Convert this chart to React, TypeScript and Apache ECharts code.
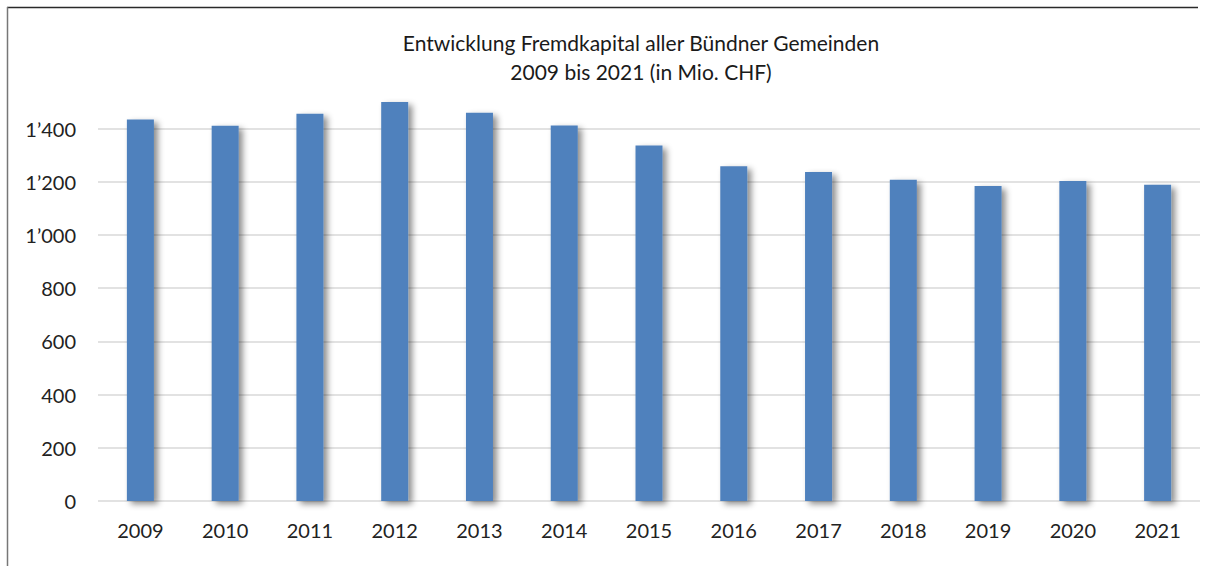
import React, { useEffect, useRef } from "react";
import * as echarts from "echarts";

const categories = ["2009", "2010", "2011", "2012", "2013", "2014", "2015", "2016", "2017", "2018", "2019", "2020", "2021"];
const values = [1434, 1411, 1456, 1500, 1460, 1412, 1336, 1258, 1237, 1208, 1184, 1203, 1189];
const titleLines = ["Entwicklung Fremdkapital aller Bündner Gemeinden", "2009 bis 2021 (in Mio. CHF)"];

const fmt = (v: number) => {
  const s = String(Math.round(v));
  return s.replace(/\B(?=(\d{3})+(?!\d))/g, "\u2019");
};

export default function App() {
  const ref = useRef<HTMLDivElement>(null);
  useEffect(() => {
    if (!ref.current) return;
    const chart = echarts.init(ref.current, null, { renderer: "svg" });
    const font = "Lato, 'Open Sans', sans-serif";
    chart.setOption({
      animation: false,
      backgroundColor: "#ffffff",
      title: {
        text: titleLines.join("\n"),
        left: 636,
        top: 23,
        textAlign: "center",
        textStyle: { fontFamily: font, fontSize: 21, fontWeight: "normal", color: "#1a1a1a", lineHeight: 29 },
      },
      graphic: [
        { type: "line", shape: { x1: 7, y1: 7.5, x2: 1198, y2: 7.5 }, style: { stroke: "#2a2a2a", lineWidth: 1.5 } },
        { type: "line", shape: { x1: 7.5, y1: 7, x2: 7.5, y2: 566 }, style: { stroke: "#777777", lineWidth: 1.5 } },
      ],
      grid: { left: 98, right: 6, top: 102, bottom: 65, containLabel: false },
      xAxis: {
        type: "category",
        data: categories,
        axisLine: { show: false },
        axisTick: { show: false },
        axisLabel: { fontFamily: font, fontSize: 20, color: "#222222", margin: 19 },
      },
      yAxis: {
        type: "value",
        min: 0,
        max: 1500,
        interval: 200,
        axisLine: { show: false },
        axisTick: { show: false },
        splitLine: { show: true, showMaxLine: false, lineStyle: { color: "#d9d9d9", width: 1.5 } },
        axisLabel: {
          fontFamily: font,
          fontSize: 20,
          color: "#222222",
          margin: 22,
          showMaxLabel: false,
          formatter: (v: number) => (v > 1400 ? "" : fmt(v)),
        },
      },
      series: [
        {
          type: "bar",
          data: values,
          barWidth: 27,
          itemStyle: {
            color: "#4F81BD",
            shadowColor: "rgba(0,0,0,0.45)",
            shadowBlur: 6,
            shadowOffsetX: 4,
            shadowOffsetY: 3,
          },
        },
      ],
    });
    return () => chart.dispose();
  }, []);
  return <div ref={ref} style={{ position: "absolute", left: 0, top: 0, width: 1206, height: 566 }} />;
}
